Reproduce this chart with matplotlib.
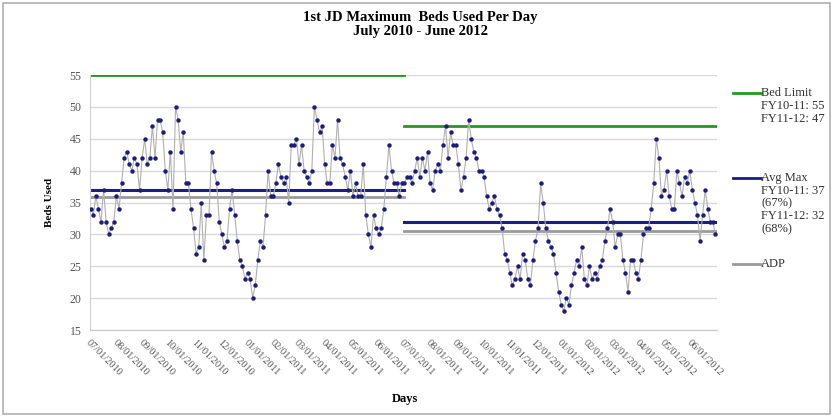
import matplotlib
matplotlib.use("Agg")
import matplotlib.pyplot as plt
from matplotlib.lines import Line2D
from matplotlib.patches import Rectangle
import datetime as dt

# ---- data (sampled every 3 days from 07/01/2010) ----
start_date = dt.date(2010, 7, 1)
sample_step_days = 3
beds_used = [
    34, 33, 36, 34, 32, 37, 32, 30, 31, 32, 36, 34, 38, 42, 43, 41, 40, 42, 41, 37,
    42, 45, 41, 42, 47, 42, 48, 48, 46, 40, 37, 43, 34, 50, 48, 43, 46, 38, 38, 34,
    31, 27, 28, 35, 26, 33, 33, 43, 40, 38, 32, 30, 28, 29, 34, 37, 33, 29, 26, 25,
    23, 24, 23, 20, 22, 26, 29, 28, 33, 40, 36, 36, 38, 41, 39, 38, 39, 35, 44, 44,
    45, 41, 44, 40, 39, 38, 40, 50, 48, 46, 47, 41, 38, 38, 44, 42, 48, 42, 41, 39,
    37, 40, 36, 38, 36, 36, 41, 33, 30, 28, 33, 31, 30, 31, 34, 39, 44, 40, 38, 38,
    36, 38, 38, 39, 39, 38, 40, 42, 39, 42, 40, 43, 38, 37, 40, 41, 40, 44, 47, 42,
    46, 44, 44, 41, 37, 39, 42, 48, 45, 43, 42, 40, 40, 39, 36, 34, 35, 36, 34, 33,
    31, 27, 26, 24, 22, 23, 25, 23, 27, 26, 23, 22, 26, 29, 31, 38, 35, 31, 29, 28,
    27, 24, 21, 19, 18, 20, 19, 22, 24, 26, 25, 28, 23, 22, 25, 23, 24, 23, 25, 26,
    29, 31, 34, 32, 28, 30, 30, 26, 24, 21, 26, 26, 24, 23, 26, 30, 31, 31, 34, 38,
    45, 42, 36, 37, 40, 36, 34, 34, 40, 38, 36, 39, 38, 40, 37, 35, 33, 29, 33, 37,
    34, 32, 32, 30,
]
dates = [start_date + dt.timedelta(days=sample_step_days * i) for i in range(len(beds_used))]

fy_starts = [dt.date(2010, 7, 1), dt.date(2011, 7, 1)]
fy_ends = [dt.date(2011, 7, 1), dt.date(2012, 6, 30)]
bed_limit = [55, 47]
avg_max = [37, 32]
adp = [35.8, 30.5]

y_ticks = [15, 20, 25, 30, 35, 40, 45, 50, 55]
month_ticks = [dt.date(2010 + (6 + m) // 12, (6 + m) % 12 + 1, 1) for m in range(24)]

legend_entries = [
    ("#1f9a1f", ["Bed Limit", "FY10-11: 55", "FY11-12: 47"]),
    ("#1c1c8c", ["Avg Max", "FY10-11: 37", "(67%)", "FY11-12: 32", "(68%)"]),
    ("#9a9a9a", ["ADP"]),
]

# ---- figure ----
serif = ["Liberation Serif", "DejaVu Serif"]
plt.rcParams["font.family"] = serif

fig = plt.figure(figsize=(8.32, 4.19), dpi=100)
ax = fig.add_axes([0.108, 0.2124, 0.754, 0.6086])

ax.set_ylim(15, 55)
ax.set_xlim(dt.date(2010, 6, 30), dt.date(2012, 7, 1))
ax.set_yticks(y_ticks)
ax.grid(axis="y", color="#d9d9d9", linewidth=1.0)
ax.set_axisbelow(True)
for s in ["top", "right"]:
    ax.spines[s].set_visible(False)
ax.spines["left"].set_color("#d0d0d0")
ax.spines["bottom"].set_color("#c8c8c8")
ax.tick_params(axis="both", length=0, labelsize=8.5, colors="#555555", pad=6)

# reference lines
for i in range(2):
    ax.plot([fy_starts[i], fy_ends[i]], [bed_limit[i]] * 2, color="#1f9a1f", lw=2.0, zorder=2)
    ax.plot([fy_starts[i], fy_ends[i]], [avg_max[i]] * 2, color="#1c1c8c", lw=2.2, zorder=2)
    ax.plot([fy_starts[i], fy_ends[i]], [adp[i]] * 2, color="#9a9a9a", lw=2.0, zorder=2)

# series
ax.plot(dates, beds_used, color="#b0b0b0", lw=0.8, zorder=3)
ax.plot(dates, beds_used, ls="none", marker="o", ms=3.2, color="#1c1c7a",
        markeredgewidth=0, zorder=4)

ax.set_xticks(month_ticks)
ax.set_xticklabels([d.strftime("%m/%d/%Y") for d in month_ticks])
for lab in ax.get_xticklabels():
    lab.set_rotation(-45)
    lab.set_ha("left")
    lab.set_va("top")
    lab.set_rotation_mode("anchor")
    lab.set_fontsize(7.5)

ax.set_ylabel("Beds Used", fontsize=8, fontweight="bold", labelpad=11)
fig.text(0.487, 0.047, "Days", ha="center", va="center", fontsize=9, fontweight="bold")

fig.text(0.505, 0.958, "1st JD Maximum  Beds Used Per Day", ha="center", va="center",
         fontsize=10.5, fontweight="bold")
fig.text(0.505, 0.925, "July 2010 - June 2012", ha="center", va="center",
         fontsize=10.5, fontweight="bold")

# legend (manual)
W, H = 832, 419
line_y_px = [93, 178, 264]
for (color, lines), y0 in zip(legend_entries, line_y_px):
    fig.add_artist(Line2D([733 / W, 761 / W], [1 - y0 / H, 1 - y0 / H], color=color, lw=2.0))
    for k, txt in enumerate(lines):
        fig.text(761 / W, 1 - (y0 + 12.8 * k) / H, txt, ha="left", va="center",
                 fontsize=9, color="#333333")

# outer frame
fig.add_artist(Rectangle((0.004, 0.012), 0.994, 0.982, transform=fig.transFigure,
                         fill=False, edgecolor="#b0b0b0", lw=1.2))

fig.savefig("out.png", dpi=100)
